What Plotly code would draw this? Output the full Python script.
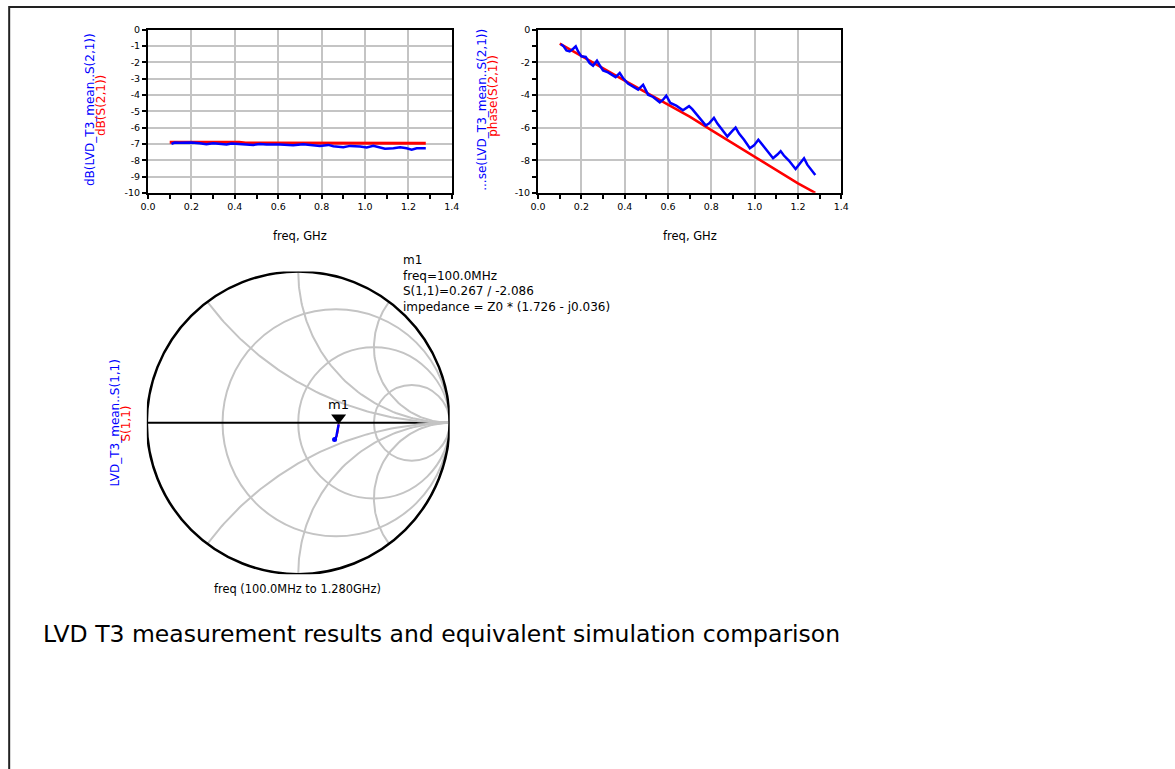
import numpy as np
import plotly.graph_objects as go

# Empirical page mapping of the renderer: screen = S * (OFF + figure_px)
W, H = 1175, 769
S = 0.987
OFF = 8
FONT = "DejaVu Sans, Verdana, sans-serif"
BLUE = "#0000ff"
RED = "#ff0000"
GRID = "#c4c4c4"


def fx(t):
    return t / S - OFF


def px(x):
    return fx(x) / W


def py(y):
    return 1 - fx(y) / H


# ---------------- data ----------------
# dB(S21) measured / simulated
db_meas_freq = [0.108, 0.123, 0.146, 0.20, 0.238, 0.269, 0.30, 0.331, 0.362, 0.385, 0.423, 0.454,
                0.485, 0.515, 0.546, 0.608, 0.669, 0.715, 0.762, 0.792, 0.831, 0.854, 0.90, 0.931,
                0.977, 1.008, 1.038, 1.069, 1.092, 1.131, 1.162, 1.192, 1.215, 1.238, 1.28]
db_meas = [-7.00, -6.92, -6.93, -6.92, -6.96, -7.02, -6.96, -6.98, -7.04, -6.98, -7.00, -7.06,
           -7.06, -7.00, -7.04, -7.04, -7.08, -7.02, -7.06, -7.12, -7.06, -7.14, -7.20, -7.12,
           -7.16, -7.22, -7.12, -7.22, -7.29, -7.27, -7.20, -7.27, -7.35, -7.27, -7.27]
db_sim_freq = [0.10, 0.42, 0.45, 1.28]
db_sim = [-6.90, -6.90, -6.95, -6.96]

# phase(S21) measured / simulated
ph_meas_freq = [0.105, 0.118, 0.131, 0.146, 0.162, 0.174, 0.185, 0.20, 0.22, 0.238, 0.254, 0.272,
                0.285, 0.30, 0.323, 0.346, 0.358, 0.377, 0.392, 0.415, 0.438, 0.462, 0.485, 0.508,
                0.531, 0.562, 0.577, 0.592, 0.611, 0.638, 0.669, 0.697, 0.712, 0.735, 0.758, 0.774,
                0.789, 0.812, 0.828, 0.851, 0.874, 0.897, 0.912, 0.928, 0.951, 0.978, 0.997, 1.017,
                1.032, 1.054, 1.085, 1.105, 1.12, 1.135, 1.158, 1.189, 1.208, 1.228, 1.243, 1.258,
                1.28]
ph_meas = [-0.88, -1.02, -1.27, -1.33, -1.16, -1.02, -1.33, -1.63, -1.67, -2.04, -2.20, -1.90,
           -2.18, -2.49, -2.61, -2.82, -2.90, -2.65, -2.96, -3.30, -3.47, -3.67, -3.37, -3.98,
           -4.12, -4.45, -4.29, -4.04, -4.49, -4.65, -4.93, -4.68, -4.87, -5.24, -5.55, -5.86,
           -5.75, -5.40, -5.75, -6.12, -6.54, -6.20, -6.00, -6.37, -6.74, -7.26, -7.09, -6.74,
           -6.99, -7.36, -7.88, -7.65, -7.44, -7.71, -8.02, -8.54, -8.23, -7.88, -8.27, -8.54,
           -8.91]
ph_sim_freq = [0.10, 0.20, 0.30, 0.40, 0.50, 0.60, 0.70, 0.80, 0.90, 1.00, 1.10, 1.20, 1.28]
ph_sim = [-0.85, -1.62, -2.38, -3.12, -3.85, -4.58, -5.33, -6.15, -6.98, -7.80, -8.62, -9.42, -10.0]

# S11 (reflection coefficient, real / imag)
s11_meas_re = [0.267, 0.264, 0.257, 0.253, 0.248, 0.240]
s11_meas_im = [-0.010, -0.040, -0.062, -0.084, -0.101, -0.110]
s11_sim_re = [0.267, 0.265, 0.259, 0.254, 0.249, 0.243]
s11_sim_im = [-0.010, -0.042, -0.064, -0.086, -0.103, -0.112]
m1_mag, m1_ang = 0.267, -2.086

# tick labels
x_ticks = [0.0, 0.2, 0.4, 0.6, 0.8, 1.0, 1.2, 1.4]
x_ticktext = ["0.0", "0.2", "0.4", "0.6", "0.8", "1.0", "1.2", "1.4"]
x_minor = [0.1, 0.3, 0.5, 0.7, 0.9, 1.1, 1.3]
db_ticks = [0, -1, -2, -3, -4, -5, -6, -7, -8, -9, -10]
db_ticktext = ["0", "-1", "-2", "-3", "-4", "-5", "-6", "-7", "-8", "-9", "-10"]
ph_ticks = [0, -2, -4, -6, -8, -10]
ph_ticktext = ["0", "-2", "-4", "-6", "-8", "-10"]
ph_minor = [-1, -3, -5, -7, -9]

smith_r = [1 / 3, 1.0, 3.0]
smith_x = [0.5, 1.0, 2.0, -0.5, -1.0, -2.0]

# ---------------- figure ----------------
fig = go.Figure()

fig.add_trace(go.Scatter(x=db_sim_freq, y=db_sim, mode="lines", line=dict(color=RED, width=3),
                         xaxis="x", yaxis="y", showlegend=False))
fig.add_trace(go.Scatter(x=db_meas_freq, y=db_meas, mode="lines", line=dict(color=BLUE, width=2.5),
                         xaxis="x", yaxis="y", showlegend=False))
fig.add_trace(go.Scatter(x=ph_sim_freq, y=ph_sim, mode="lines", line=dict(color=RED, width=2.5),
                         xaxis="x2", yaxis="y2", showlegend=False))
fig.add_trace(go.Scatter(x=ph_meas_freq, y=ph_meas, mode="lines", line=dict(color=BLUE, width=2.5),
                         xaxis="x2", yaxis="y2", showlegend=False))

# Smith chart grid arcs (constant reactance)
rr = np.concatenate([np.linspace(0, 1, 60), np.logspace(0, 3.5, 120)])
for xv in smith_x:
    z = rr + 1j * xv
    g = (z - 1) / (z + 1)
    fig.add_trace(go.Scatter(x=g.real, y=g.imag, mode="lines", line=dict(color=GRID, width=2),
                             xaxis="x3", yaxis="y3", showlegend=False, hoverinfo="skip"))

fig.add_trace(go.Scatter(x=s11_sim_re, y=s11_sim_im, mode="lines", line=dict(color=RED, width=2),
                         xaxis="x3", yaxis="y3", showlegend=False))
fig.add_trace(go.Scatter(x=s11_meas_re, y=s11_meas_im, mode="lines", line=dict(color=BLUE, width=2.5),
                         xaxis="x3", yaxis="y3", showlegend=False))
fig.add_trace(go.Scatter(x=s11_meas_re[-1:], y=s11_meas_im[-1:], mode="markers",
                         marker=dict(color=BLUE, size=5), xaxis="x3", yaxis="y3", showlegend=False))

# marker m1 triangle
R_PX = 151.5
m1_re = m1_mag * np.cos(np.radians(m1_ang))
m1_im = m1_mag * np.sin(np.radians(m1_ang))
fig.add_trace(go.Scatter(x=[m1_re], y=[m1_im + 6.5 / R_PX], mode="markers",
                         marker=dict(symbol="triangle-down", size=13, color="black"),
                         xaxis="x3", yaxis="y3", showlegend=False))

shapes = []
# page frame (left and top edges of the page border)
shapes.append(dict(type="rect", xref="paper", yref="paper", x0=1.2 / W, x1=1.05, y0=-0.05,
                   y1=1 - 1.0 / H, line=dict(color="#222222", width=2), layer="below"))
# smith resistance circles
for r in smith_r:
    c = r / (1 + r)
    rad = 1 / (1 + r)
    shapes.append(dict(type="circle", xref="x3", yref="y3", x0=c - rad, x1=c + rad, y0=-rad, y1=rad,
                       line=dict(color=GRID, width=2), layer="below"))
# real axis
shapes.append(dict(type="line", xref="x3", yref="y3", x0=-1, x1=1, y0=0, y1=0,
                   line=dict(color="black", width=2), layer="below"))
# unit circle
shapes.append(dict(type="circle", xref="x3", yref="y3", x0=-1, x1=1, y0=-1, y1=1,
                   line=dict(color="black", width=2.5), layer="above"))

tickfont = dict(family=FONT, size=9.5, color="black")
common_x = dict(range=[0, 1.4], tickvals=x_ticks, ticktext=x_ticktext, ticks="outside", ticklen=4,
                tickwidth=2, tickcolor="black", showgrid=True, gridcolor=GRID, gridwidth=2,
                showline=True, linecolor="black", linewidth=2, mirror=True, zeroline=False,
                tickfont=tickfont,
                minor=dict(tickvals=x_minor, ticks="outside", ticklen=4, tickwidth=2, tickcolor="black",
                           showgrid=False))

fig.update_layout(
    width=W, height=H, autosize=False,
    margin=dict(l=0, r=0, t=0, b=0),
    paper_bgcolor="white", plot_bgcolor="white",
    font=dict(family=FONT, color="black"),
    xaxis=dict(domain=[px(148), px(452)], anchor="y", **common_x),
    yaxis=dict(domain=[py(195), py(31.7)], anchor="x", range=[-10, 0], tickvals=db_ticks,
               ticktext=db_ticktext, ticks="outside", ticklen=4, tickwidth=2, tickcolor="black",
               showgrid=True, gridcolor=GRID, gridwidth=2, showline=True, linecolor="black",
               linewidth=2, mirror=True, zeroline=False, tickfont=tickfont),
    xaxis2=dict(domain=[px(538.3), px(841.7)], anchor="y2", **common_x),
    yaxis2=dict(domain=[py(195), py(31.7)], anchor="x2", range=[-10, 0], tickvals=ph_ticks,
                ticktext=ph_ticktext, ticks="outside", ticklen=4, tickwidth=2, tickcolor="black",
                showgrid=True, gridcolor=GRID, gridwidth=2, showline=True, linecolor="black",
                linewidth=2, mirror=True, zeroline=False, tickfont=tickfont,
                minor=dict(tickvals=ph_minor, ticks="outside", ticklen=4, tickwidth=2,
                           tickcolor="black", showgrid=False)),
    xaxis3=dict(domain=[px(146.8), px(449.8)], anchor="y3", range=[-1.0, 1.0], visible=False),
    yaxis3=dict(domain=[py(576.8), py(273.8)], anchor="x3", range=[-1.0, 1.0], visible=False),
    shapes=shapes,
)

ann = []


def text(x, y, s, size, color="black", angle=0, xanchor="center", yanchor="middle", align="center"):
    ann.append(dict(x=px(x), y=py(y), xref="paper", yref="paper", text=s, showarrow=False,
                    font=dict(family=FONT, size=size, color=color), textangle=angle,
                    xanchor=xanchor, yanchor=yanchor, align=align, borderpad=0))


# axis titles
text(300, 238, "freq, GHz", 11.5)
text(690, 238, "freq, GHz", 11.5)
text(90, 112, "dB(LVD_T3_mean..S(2,1))", 12, BLUE, -90)
text(101, 108, "dB(S(2,1))", 12, RED, -90)
text(482, 112, "...se(LVD_T3_mean..S(2,1))", 12, BLUE, -90)
text(493, 98, "phase(S(2,1))", 12, RED, -90)
text(115, 425, "LVD_T3_mean..S(1,1)", 12, BLUE, -90)
text(126, 426, "S(1,1)", 12, RED, -90)
text(298, 592, "freq (100.0MHz to 1.280GHz)", 11.4)

# marker readout
text(339, 407, "m1", 13)
readout = ["m1", "freq=100.0MHz", "S(1,1)=0.267 / -2.086", "impedance = Z0 * (1.726 - j0.036)"]
text(402, 254, "<br>".join(readout), 12, xanchor="left", yanchor="top", align="left")

# caption
text(42, 637, "LVD T3 measurement results and equivalent simulation comparison", 23.5, xanchor="left")

fig.update_layout(annotations=ann)
fig.write_html("out.html")
